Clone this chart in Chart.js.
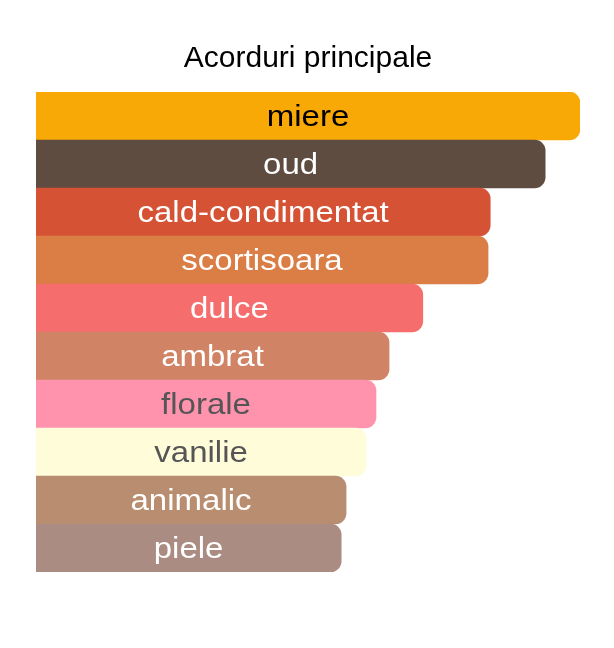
<!DOCTYPE html>
<html>
<head>
<meta charset="utf-8">
<script src="https://cdn.jsdelivr.net/npm/chart.js@4"></script>
<style>
  html, body { margin: 0; padding: 0; background: #fff; }
  #wrap { width: 614px; height: 648px; }
</style>
</head>
<body>
<div id="wrap"><canvas id="chart"></canvas></div>
<script>
const labels = ["miere", "oud", "cald-condimentat", "scortisoara", "dulce", "ambrat", "florale", "vanilie", "animalic", "piele"];
const values = [100, 93.6, 83.5, 83.1, 71.1, 64.9, 62.5, 60.7, 57, 56.1];

const barColors = ["#F9A905", "#5E4C41", "#D65235", "#DB7E45", "#F56D6D", "#D18465", "#FF93AE", "#FFFCD9", "#B98D6F", "#AA8C83"];
const textColors = ["#000", "#fff", "#fff", "#fff", "#fff", "#fff", "#555", "#555", "#fff", "#fff"];

/* names drawn in the middle of each bar */
const barText = {
  id: "barText",
  afterDatasetsDraw(c) {
    const ctx = c.ctx;
    const bars = c.getDatasetMeta(0).data;
    ctx.save();
    ctx.font = "30px 'Liberation Sans', Arial, sans-serif";
    ctx.textAlign = "center";
    ctx.textBaseline = "middle";
    bars.forEach((b, i) => {
      const cx = (b.base + b.x) / 2;
      ctx.save();
      ctx.translate(cx, b.y + 2);
      ctx.scale(1.1, 1);
      ctx.fillStyle = textColors[i];
      ctx.fillText(labels[i], 0, 0);
      ctx.restore();
    });
    ctx.restore();
  }
};

new Chart(chart, {
  type: "bar",
  data: {
    labels,
    datasets: [{
      data: values,
      backgroundColor: barColors,
      borderRadius: 11,
      borderSkipped: "start",
      barPercentage: 1,
      categoryPercentage: 1
    }]
  },
  plugins: [barText],
  options: {
    indexAxis: "y",
    responsive: true,
    maintainAspectRatio: false,
    animation: false,
    layout: { padding: { left: 36, right: 34, bottom: 76 } },
    plugins: {
      legend: { display: false },
      tooltip: { enabled: false },
      title: {
        display: true,
        text: "Acorduri principale",
        color: "#000",
        font: { family: "'Liberation Sans', Arial, sans-serif", size: 30, weight: "normal" },
        padding: { top: 41, bottom: 15 }
      }
    },
    scales: {
      x: { display: false, min: 0, max: 100 },
      y: { display: false }
    }
  }
});
</script>
</body>
</html>
